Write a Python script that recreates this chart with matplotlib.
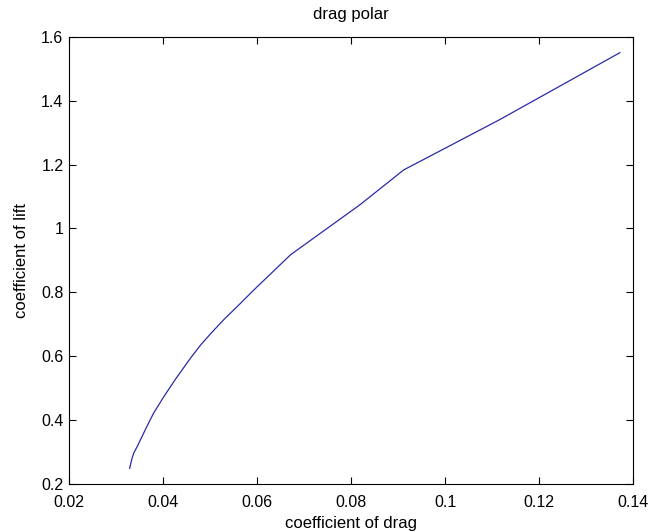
import matplotlib
matplotlib.use("Agg")
from matplotlib import pyplot as plt

# drag polar, values
cd = [0.0329, 0.0334, 0.0338, 0.0345, 0.0363, 0.0380, 0.0402, 0.0426,
      0.0458, 0.0480, 0.0501, 0.0529, 0.0561, 0.0593, 0.0671, 0.0685,
      0.0819, 0.0912, 0.1117, 0.1372]
cl = [0.249, 0.280, 0.298, 0.317, 0.372, 0.422, 0.474, 0.527,
      0.593, 0.635, 0.670, 0.714, 0.760, 0.807, 0.917, 0.932,
      1.074, 1.183, 1.341, 1.550]

xticks = [0.02, 0.04, 0.06, 0.08, 0.1, 0.12, 0.14]
xtick_labels = ['0.02', '0.04', '0.06', '0.08', '0.1', '0.12', '0.14']
yticks = [0.2, 0.4, 0.6, 0.8, 1.0, 1.2, 1.4, 1.6]
ytick_labels = ['0.2', '0.4', '0.6', '0.8', '1', '1.2', '1.4', '1.6']

plt.rcParams['font.family'] = ['Liberation Sans', 'DejaVu Sans']

fig = plt.figure(figsize=(6.61, 5.32), dpi=100)
ax = fig.add_axes([0.1044, 0.0902, 0.8533, 0.8408])

ax.plot(cd, cl, color='#2a2aa8', linewidth=0.9)

ax.set_xlim(0.02, 0.14)
ax.set_ylim(0.2, 1.6)
ax.set_xticks(xticks)
ax.set_xticklabels(xtick_labels)
ax.set_yticks(yticks)
ax.set_yticklabels(ytick_labels)
ax.tick_params(direction='in', top=True, right=True, length=5, width=0.8,
               labelsize=11.5)
ax.tick_params(axis='x', pad=8)
ax.tick_params(axis='y', pad=4)
for s in ax.spines.values():
    s.set_linewidth(0.8)

ax.set_title('drag polar', fontsize=12, pad=13)
ax.set_xlabel('coefficient of drag', fontsize=12, labelpad=4)
ax.set_ylabel('coefficient of lift', fontsize=12, labelpad=9)

plt.savefig('out.png', dpi=100)
